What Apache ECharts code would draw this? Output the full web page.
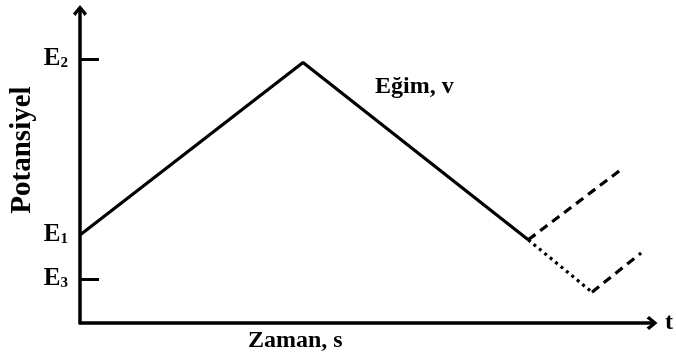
<!DOCTYPE html>
<html>
<head>
<meta charset="utf-8">
<script src="https://cdn.jsdelivr.net/npm/echarts@6/dist/echarts.min.js"></script>
<style>html,body{margin:0;padding:0;background:#fff}#c{width:676px;height:358px}</style>
</head>
<body>
<div id="c"></div>
<script>
// ---- data ----
const potentialTicks = [1, 2, 6];            // E3, E1, E2
const potentialTickSubs = ['3', '1', '2'];
const markedTicks = [1, 6];                  // ticks drawn with a mark
const sweepMain = [[0, 2], [10, 5.92], [20.1, 1.89]];
const sweepReturnUp = [[20.1, 1.89], [24.35, 3.52]];
const sweepDown = [[20.1, 1.89], [22.96, 0.70]];
const sweepDownReturn = [[22.96, 0.70], [25.16, 1.59]];
const yAxisTitle = 'Potansiyel';
const xAxisTitle = 'Zaman, s';
const xAxisEnd = 't';
const slopeLabel = 'Eğim, v';

const FONT = '"Liberation Serif", "DejaVu Serif", serif';
const chevron = 'path://M7,0 L0,8.4 L2.6,11 L7,4.6 L11.4,11 L14,8.4 Z';

const chart = echarts.init(document.getElementById('c'), null, {renderer: 'canvas'});
const lineSeries = (data, type, width) => ({
  type: 'line', data, symbol: 'none', silent: true, animation: false,
  lineStyle: {color: '#000', width, type}
});
chart.setOption({
  animation: false,
  backgroundColor: '#fff',
  grid: {left: 80, right: 24, top: 10.5, bottom: 35},
  title: [
    {text: xAxisTitle, left: 248, top: 329, textStyle: {fontFamily: FONT, fontWeight: 'bold', fontSize: 24, color: '#000'}, padding: 0},
    {text: slopeLabel, left: 375, top: 75, textStyle: {fontFamily: FONT, fontWeight: 'bold', fontSize: 24, color: '#000'}, padding: 0}
  ],
  graphic: [{
    type: 'text', x: 23, y: 150, rotation: Math.PI / 2,
    style: {text: yAxisTitle, font: 'bold 29px ' + FONT, fill: '#000', align: 'center', verticalAlign: 'middle'}
  }],
  xAxis: {
    type: 'value', min: 0, max: 25.65,
    axisLine: {show: true, lineStyle: {color: '#000', width: 3.5}, symbol: ['none', chevron], symbolSize: [14, 11]},
    axisTick: {show: false}, axisLabel: {show: false}, splitLine: {show: false},
    name: xAxisEnd, nameLocation: 'end', nameGap: 13,
    nameTextStyle: {fontFamily: FONT, fontWeight: 'bold', fontSize: 24, color: '#000', verticalAlign: 'middle'}
  },
  yAxis: {
    type: 'value', min: 0, max: 7.1,
    axisLine: {show: true, lineStyle: {color: '#000', width: 3.5}, symbol: ['none', chevron], symbolSize: [14, 11]},
    axisTick: {show: true, inside: true, length: 19, customValues: markedTicks, lineStyle: {color: '#000', width: 3}},
    axisLabel: {
      show: true, margin: 12, customValues: potentialTicks,
      formatter: v => '{e|E}{s|' + potentialTickSubs[potentialTicks.indexOf(v)] + '}',
      rich: {
        e: {fontFamily: FONT, fontWeight: 'bold', fontSize: 25, color: '#000'},
        s: {fontFamily: FONT, fontWeight: 'bold', fontSize: 15, color: '#000', padding: [8, 0, 0, 0]}
      }
    },
    splitLine: {show: false}
  },
  series: [
    lineSeries(sweepMain, 'solid', 3.2),
    lineSeries(sweepReturnUp, [9, 6], 3.2),
    lineSeries(sweepDown, [3, 4], 3.2),
    lineSeries(sweepDownReturn, [9, 6], 3.2)
  ]
});
</script>
</body>
</html>
